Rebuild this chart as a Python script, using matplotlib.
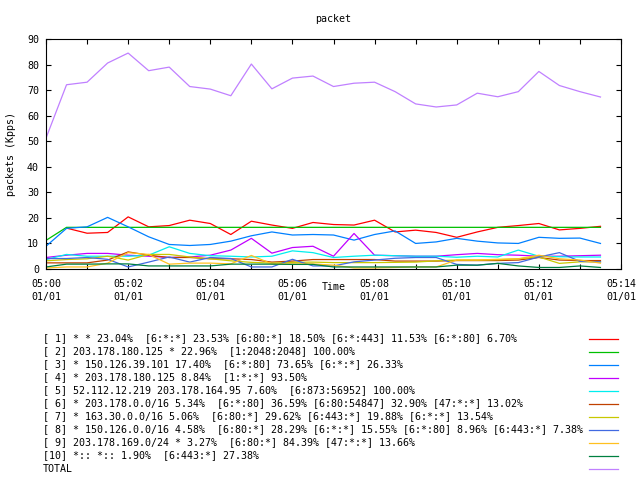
import matplotlib
matplotlib.use("Agg")
import matplotlib.pyplot as plt
import matplotlib.dates as mdates
from matplotlib.lines import Line2D
import numpy as np
import pandas as pd

# sample times, every 30 s from 05:00
times = pd.date_range("2000-01-01 05:00:00", periods=28, freq="30s")

s1 = [np.nan, 16.0, 14.0, 14.3, 20.4, 16.5, 17.0, 19.1, 17.8, 13.5, 18.7, 17.2, 15.9, 18.2,
      17.4, 17.2, 19.1, 14.5, 15.2, 14.3, 12.4, 14.5, 16.3, 17.0, 17.8, 15.3, 15.9, 16.7]
s2 = [11.2, 16.3, 16.3, 16.3, 16.3, 16.3, 16.3, 16.3, 16.3, 16.3, 16.3, 16.3, 16.3, 16.3,
      16.3, 16.3, 16.3, 16.3, 16.3, 16.3, 16.3, 16.3, 16.3, 16.3, 16.3, 16.3, 16.3, 16.3]
s3 = [8.9, 15.9, 16.5, 20.2, 16.5, 12.6, 9.6, 9.2, 9.6, 10.9, 13.0, 14.5, 13.3, 13.5,
      13.3, 11.3, 13.5, 14.9, 10.0, 10.6, 12.0, 10.9, 10.2, 10.0, 12.4, 12.0, 12.1, 10.0]
s4 = [4.5, 5.4, 6.1, 6.1, 5.4, 5.0, 4.5, 4.7, 5.4, 7.4, 12.0, 6.2, 8.4, 8.9,
      5.0, 13.9, 5.4, 5.2, 5.0, 5.0, 5.6, 6.1, 5.6, 5.4, 5.0, 5.0, 5.2, 5.4]
s5 = [3.7, 5.7, 5.0, 5.0, 5.0, 5.4, 8.7, 6.1, 5.2, 5.0, 4.7, 5.0, 7.1, 6.4,
      4.5, 5.0, 5.4, 5.2, 5.0, 5.0, 4.6, 5.0, 4.7, 7.4, 5.0, 4.8, 4.7, 4.7]
s6 = [2.4, 2.4, 2.4, 3.5, 6.7, 5.4, 4.5, 4.5, 4.0, 4.0, 3.7, 2.7, 3.1, 3.7,
      3.7, 3.7, 3.7, 3.1, 3.1, 3.1, 3.3, 3.3, 3.3, 3.5, 4.5, 3.5, 3.3, 3.3]
s7 = [3.2, 3.7, 4.0, 5.0, 3.5, 5.7, 5.7, 4.7, 4.0, 3.2, 2.6, 2.3, 2.6, 2.7,
      2.5, 2.5, 2.5, 2.6, 2.7, 3.2, 3.5, 3.5, 3.6, 4.0, 4.7, 2.2, 2.8, 2.8]
s8 = [4.1, 4.1, 4.5, 3.8, 0.8, 2.7, 4.7, 2.7, 4.5, 4.1, 0.8, 0.8, 3.8, 1.2,
      1.2, 2.8, 3.5, 4.2, 4.5, 4.5, 1.8, 1.5, 2.2, 2.5, 4.7, 6.4, 3.0, 2.8]
s9 = [0.4, 0.8, 0.8, 2.3, 6.4, 5.7, 1.9, 2.3, 2.3, 2.0, 5.3, 2.0, 2.0, 2.0,
      1.5, 0.4, 0.4, 0.6, 0.8, 0.8, 3.5, 3.5, 3.8, 4.0, 5.4, 4.0, 3.5, 2.3]
s10 = [0.8, 1.9, 1.9, 2.0, 2.0, 1.2, 1.2, 1.2, 1.2, 1.9, 1.9, 1.9, 1.8, 1.8,
       0.8, 0.8, 0.8, 0.8, 0.8, 0.8, 1.5, 1.5, 2.2, 1.2, 0.6, 0.6, 1.2, 0.6]
total = [51.2, 72.1, 73.1, 80.6, 84.5, 77.6, 79.0, 71.4, 70.4, 67.8, 80.2, 70.5, 74.7, 75.5,
         71.4, 72.7, 73.1, 69.4, 64.6, 63.4, 64.2, 68.8, 67.4, 69.4, 77.3, 71.8, 69.4, 67.3]

labels = [
    "[ 1] * * 23.04%  [6:*:*] 23.53% [6:80:*] 18.50% [6:*:443] 11.53% [6:*:80] 6.70%",
    "[ 2] 203.178.180.125 * 22.96%  [1:2048:2048] 100.00%",
    "[ 3] * 150.126.39.101 17.40%  [6:*:80] 73.65% [6:*:*] 26.33%",
    "[ 4] * 203.178.180.125 8.84%  [1:*:*] 93.50%",
    "[ 5] 52.112.12.219 203.178.164.95 7.60%  [6:873:56952] 100.00%",
    "[ 6] * 203.178.0.0/16 5.34%  [6:*:80] 36.59% [6:80:54847] 32.90% [47:*:*] 13.02%",
    "[ 7] * 163.30.0.0/16 5.06%  [6:80:*] 29.62% [6:443:*] 19.88% [6:*:*] 13.54%",
    "[ 8] * 150.126.0.0/16 4.58%  [6:80:*] 28.29% [6:*:*] 15.55% [6:*:80] 8.96% [6:443:*] 7.38%",
    "[ 9] 203.178.169.0/24 * 3.27%  [6:80:*] 84.39% [47:*:*] 13.66%",
    "[10] *:: *:: 1.90%  [6:443:*] 27.38%",
    "TOTAL",
]
series = [s1, s2, s3, s4, s5, s6, s7, s8, s9, s10, total]

# gnuplot default line colours
colors = ["#ff0000", "#00c000", "#0080ff", "#c000ff", "#00eeee", "#c04000",
          "#c8c800", "#4169e1", "#ffc020", "#008040", "#c080ff"]

plt.rcParams["font.family"] = ["DejaVu Sans Mono"]
plt.rcParams["font.size"] = 7.2

fig = plt.figure(figsize=(6.4, 4.8), dpi=100)
ax = fig.add_axes([46 / 640, 1 - 269 / 480, 575 / 640, 230 / 480])

for vals, c in zip(series, colors):
    ax.plot(times, vals, color=c, lw=0.9)

ax.set_xlim(pd.Timestamp("2000-01-01 05:00"), pd.Timestamp("2000-01-01 05:14"))
ax.set_ylim(0, 90)
ax.set_yticks(range(0, 91, 10))
ax.xaxis.set_major_locator(mdates.MinuteLocator(byminute=range(0, 60, 2)))
ax.xaxis.set_minor_locator(mdates.MinuteLocator())
ax.xaxis.set_major_formatter(mdates.DateFormatter("%H:%M\n%m/%d"))
ax.tick_params(which="both", direction="in", length=3.5, width=0.8,
               top=True, right=True, labelsize=7.2)
ax.tick_params(axis="x", pad=7)
ax.tick_params(axis="y", pad=5)
fig.canvas.draw()
for lab in ax.get_xticklabels():
    lab.set_linespacing(1.35)
for sp in ax.spines.values():
    sp.set_linewidth(0.8)

ax.set_title("packet", pad=12, fontsize=7.2)
ax.set_xlabel("Time", va="center")
ax.xaxis.set_label_coords(0.5, -18 / 230)
ax.set_ylabel("packets (Kpps)", va="center")
ax.yaxis.set_label_coords(-35 / 575, 0.5)

# key below the plot: text on the left, line sample on the right
for i, (lab, c) in enumerate(zip(labels, colors)):
    ypix = 338.5 + 13 * i
    fy = 1 - ypix / 480
    fig.text(43 / 640, fy, lab, ha="left", va="center", fontsize=7.2)
    fig.add_artist(Line2D([589 / 640, 618 / 640], [fy, fy], color=c, lw=0.9,
                          transform=fig.transFigure))

fig.savefig("out.png", dpi=100)
